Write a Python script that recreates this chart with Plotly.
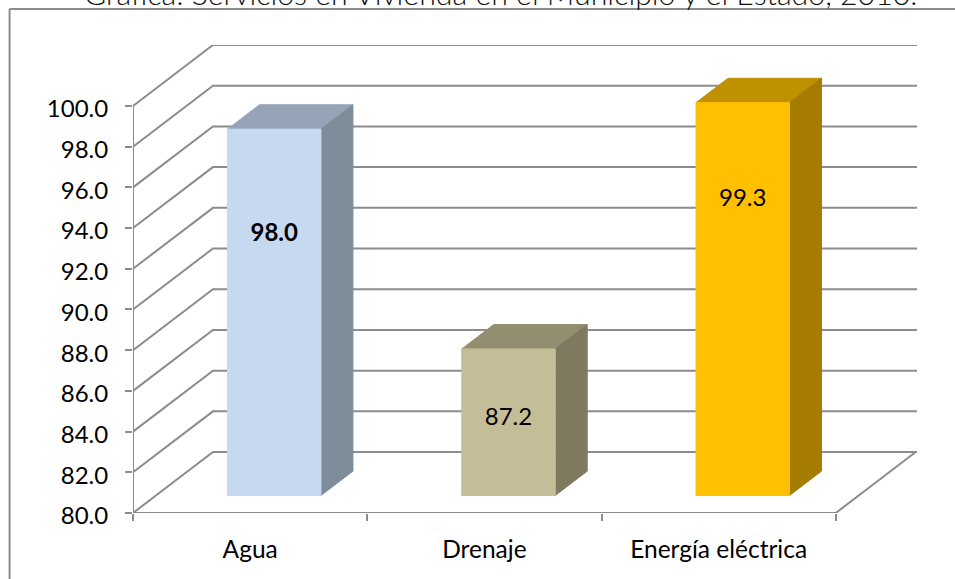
import plotly.graph_objects as go

# datos
categorias = ['Agua', 'Drenaje', 'Energía eléctrica']
valores = [98.0, 87.2, 99.3]
etiquetas = ['<b>98.0</b>', '87.2', '99.3']
y_ticks = [80, 82, 84, 86, 88, 90, 92, 94, 96, 98, 100]
y_labels = ['80.0', '82.0', '84.0', '86.0', '88.0', '90.0', '92.0', '94.0', '96.0', '98.0', '100.0']

color_frente = ['#C6D9F1', '#C4BD97', '#FFC000']
color_arriba = ['#97A3B6', '#938E70', '#BF9000']
color_lado = ['#7F8C9A', '#7E7A5F', '#A67C00']
altura_etiqueta = [0.710, 0.520, 0.753]

GRIS = '#8C8C8C'
FUENTE = 'Lato'

# geometria del plot en pixeles
W, H = 955, 579
L, R, T, B = 133, 917.5, 45, 513.5
PX_CAT = 234.4
PX_VAL = 20.375
DX = 80 / PX_CAT   # fondo del grafico 3d, en unidades de categoria
DY = 61 / PX_VAL   # fondo del grafico 3d, en unidades de valor
ANCHO = 0.1995
CENTRO = 0.505
F0, F1 = 0.287, 0.687  # donde empieza y termina la barra en la profundidad
BASE = y_ticks[0]
N = len(categorias)


def pared(x, v, d):
    return x + d * DX, v + d * DY


def poligono(puntos, color, linea):
    xs = [p[0] for p in puntos] + [puntos[0][0]]
    ys = [p[1] for p in puntos] + [puntos[0][1]]
    return go.Scatter(x=xs, y=ys, mode='lines', fill='toself', fillcolor=color,
                      line=dict(color=linea, width=1), hoverinfo='skip', showlegend=False)


def linea(xs, ys, ancho=2):
    return go.Scatter(x=xs, y=ys, mode='lines', line=dict(color=GRIS, width=ancho),
                      hoverinfo='skip', showlegend=False, cliponaxis=False)


fig = go.Figure()

# lineas de las paredes
xmax = (R - L) / PX_CAT
for v in y_ticks:
    fig.add_trace(linea([0, DX, xmax], [v, v + DY, v + DY]))
fig.add_trace(linea([0, 0], [BASE, y_ticks[-1]], 2))
fig.add_trace(linea([0, N, N + DX], [BASE, BASE, BASE + DY], 2))

# barras
for i, v in enumerate(valores):
    c = i + CENTRO
    x0, x1 = c - ANCHO, c + ANCHO
    fig.add_trace(poligono([pared(x0, v, F0), pared(x1, v, F0), pared(x1, v, F1), pared(x0, v, F1)],
                           color_arriba[i], color_arriba[i]))
    fig.add_trace(poligono([pared(x1, BASE, F0), pared(x1, BASE, F1), pared(x1, v, F1), pared(x1, v, F0)],
                           color_lado[i], color_lado[i]))
    fig.add_trace(poligono([pared(x0, BASE, F0), pared(x1, BASE, F0), pared(x1, v, F0), pared(x0, v, F0)],
                           color_frente[i], color_frente[i]))

# etiquetas de datos
fig.add_trace(go.Scatter(
    x=[i + CENTRO + F0 * DX for i in range(N)],
    y=[BASE + F0 * DY + h * (v - BASE) for v, h in zip(valores, altura_etiqueta)],
    mode='text', text=etiquetas, textposition='middle center',
    textfont=dict(family=FUENTE, size=24, color='black'),
    hoverinfo='skip', showlegend=False))


def px_x(x):
    return (x - L) / (R - L)


def px_y(y):
    return (B - y) / (B - T)


# marco exterior
marco = dict(type='line', xref='paper', yref='paper', line=dict(color=GRIS, width=2))
fig.add_shape(x0=px_x(9.5), x1=px_x(W + 5), y0=px_y(9), y1=px_y(9), **marco)
fig.add_shape(x0=px_x(9.5), x1=px_x(9.5), y0=px_y(9), y1=px_y(H + 5), **marco)

# el titulo queda cortado por arriba, igual que en la original
fig.add_annotation(text='Gráfica: Servicios en Vivienda en el Municipio y el Estado, 2010.',
                   xref='paper', yref='paper', x=px_x(501), y=px_y(13), xanchor='center', yanchor='bottom',
                   showarrow=False, font=dict(family=FUENTE, size=30.3, color='#111111', weight=300))

fig.update_layout(
    width=W, height=H, autosize=False,
    margin=dict(l=L, r=W - R, t=T, b=H - B),
    paper_bgcolor='white', plot_bgcolor='white',
    showlegend=False, hovermode=False,
    font=dict(family=FUENTE, size=24, color='black'),
    xaxis=dict(range=[0, xmax], tickvals=[0.5, 1.5, 2.5], ticktext=categorias, ticks='',
               showgrid=False, zeroline=False, showline=False, ticklabelstandoff=19,
               minor=dict(tickvals=[0, 1, 2, 3], ticks='outside', ticklen=7, tickwidth=2, tickcolor=GRIS, showgrid=False),
               tickfont=dict(family=FUENTE, size=24.5)),
    yaxis=dict(range=[BASE, BASE + (B - T) / PX_VAL], tickvals=y_ticks, ticktext=y_labels,
               ticks='outside', ticklen=7, tickwidth=2, tickcolor=GRIS, ticklabelstandoff=12, ticklabelshift=3,
               showgrid=False, zeroline=False, showline=False,
               tickfont=dict(family=FUENTE, size=24)),
)

# sin el margen por defecto de la pagina
fig.write_html('out.html', post_script="document.body.style.margin='0';",
               config=dict(displayModeBar=False))
